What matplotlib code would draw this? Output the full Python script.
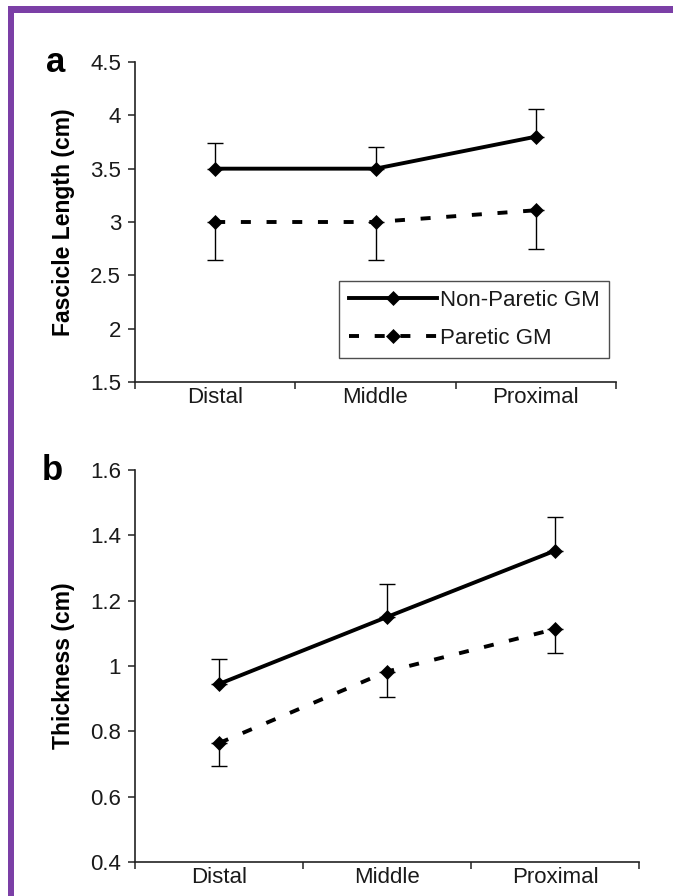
import matplotlib
matplotlib.use("Agg")
import matplotlib.pyplot as plt
from matplotlib.patches import Rectangle
from matplotlib.ticker import FixedLocator, NullFormatter

plt.rcParams['font.family'] = ['Liberation Sans', 'DejaVu Sans']
plt.rcParams['lines.scale_dashes'] = False

categories = ["Distal", "Middle", "Proximal"]
series_names = ["Non-Paretic GM", "Paretic GM"]

# Panel a: fascicle length (cm)
fl_nonparetic = [3.5, 3.5, 3.8]
fl_nonparetic_err_up = [0.24, 0.20, 0.26]
fl_paretic = [3.0, 3.0, 3.11]
fl_paretic_err_down = [0.36, 0.36, 0.36]
fl_ticks = [1.5, 2, 2.5, 3, 3.5, 4, 4.5]
fl_ticklabels = ["1.5", "2", "2.5", "3", "3.5", "4", "4.5"]

# Panel b: thickness (cm)
th_nonparetic = [0.945, 1.15, 1.353]
th_nonparetic_err_up = [0.076, 0.10, 0.104]
th_paretic = [0.764, 0.983, 1.113]
th_paretic_err_down = [0.071, 0.079, 0.072]
th_ticks = [0.4, 0.6, 0.8, 1.0, 1.2, 1.4, 1.6]
th_ticklabels = ["0.4", "0.6", "0.8", "1", "1.2", "1.4", "1.6"]

W, H = 673, 896
fig = plt.figure(figsize=(W / 100, H / 100), dpi=100)

# purple frame (top and left edges visible)
purple = '#7b3fa6'
fig.patches.append(Rectangle((8 / W, 0), 6 / W, 1 - 6 / H, transform=fig.transFigure,
                             facecolor=purple, edgecolor='none', zorder=10))
fig.patches.append(Rectangle((8 / W, 1 - 13 / H), 1, 7 / H, transform=fig.transFigure,
                             facecolor=purple, edgecolor='none', zorder=10))

def px_axes(l, t, r, b):
    return fig.add_axes([l / W, 1 - b / H, (r - l) / W, (b - t) / H])

ax_a = px_axes(135, 62, 616, 382)
ax_b = px_axes(135, 470, 639, 862)

tick_color = '#1a1a1a'

def style(ax, ylim, yticks, yticklabels, ylabel, letter):
    x = range(len(categories))
    ax.set_xlim(-0.5, len(categories) - 0.5)
    ax.set_ylim(*ylim)
    for s in ['top', 'right']:
        ax.spines[s].set_visible(False)
    for s in ['left', 'bottom']:
        ax.spines[s].set_linewidth(1.2)
        ax.spines[s].set_color('#222222')
    ax.xaxis.set_major_locator(FixedLocator([i - 0.5 for i in range(len(categories) + 1)]))
    ax.xaxis.set_major_formatter(NullFormatter())
    ax.xaxis.set_minor_locator(FixedLocator(list(x)))
    ax.set_xticklabels(categories, minor=True)
    ax.tick_params(axis='x', which='major', direction='out', length=5, width=1.1, color='#222222')
    ax.tick_params(axis='x', which='minor', length=0, pad=3.5, labelsize=16, labelcolor=tick_color)
    ax.set_yticks(yticks)
    ax.set_yticklabels(yticklabels)
    ax.tick_params(axis='y', direction='out', length=5, width=1.1, color='#222222',
                   pad=5, labelsize=16, labelcolor=tick_color)
    ax.set_ylabel(ylabel, fontsize=16.5, fontweight='bold', labelpad=11)
    ax.text(-0.164, 1.0, letter, transform=ax.transAxes, fontsize=25, fontweight='bold',
            ha='center', va='center')

def draw(ax, np_vals, np_up, p_vals, p_down):
    x = list(range(len(categories)))
    ax.errorbar(x, np_vals, yerr=[[0] * len(x), np_up], fmt='none', ecolor='black',
                elinewidth=1.0, capsize=5.5, capthick=1.0, zorder=2)
    ax.errorbar(x, p_vals, yerr=[p_down, [0] * len(x)], fmt='none', ecolor='black',
                elinewidth=1.0, capsize=5.5, capthick=1.0, zorder=2)
    l1, = ax.plot(x, np_vals, color='black', lw=2.8, marker='D', ms=6.8, mew=0.5,
                  solid_joinstyle='miter', zorder=3, label=series_names[0])
    l2, = ax.plot(x, p_vals, color='black', lw=2.8, marker='D', ms=6.8, mew=0.5,
                  dashes=[7.2, 11.3], zorder=3, label=series_names[1])
    return l1, l2

style(ax_a, (1.5, 4.5), fl_ticks, fl_ticklabels, "Fascicle Length (cm)", "a")
l1, l2 = draw(ax_a, fl_nonparetic, fl_nonparetic_err_up, fl_paretic, fl_paretic_err_down)
leg = ax_a.legend(handles=[l1, l2], loc='lower right', bbox_to_anchor=(0.985, 0.075),
                  fontsize=16, frameon=True, fancybox=False, numpoints=1,
                  handlelength=4.0, handletextpad=0.1, borderpad=0.42, labelspacing=0.75,
                  borderaxespad=0)
leg.get_frame().set_edgecolor('#222222')
leg.get_frame().set_linewidth(1.0)
for t in leg.get_texts():
    t.set_color(tick_color)

style(ax_b, (0.4, 1.6), th_ticks, th_ticklabels, "Thickness (cm)", "b")
draw(ax_b, th_nonparetic, th_nonparetic_err_up, th_paretic, th_paretic_err_down)

fig.savefig("out.png", dpi=100)
